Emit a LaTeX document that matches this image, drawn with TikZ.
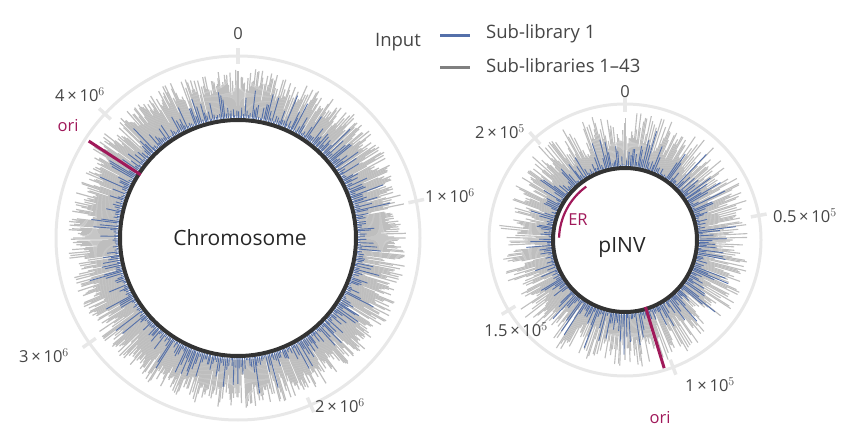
\documentclass[tikz,border=0pt]{standalone}
\usepackage{fontspec}
\setmainfont{Open Sans}
\definecolor{blu}{RGB}{84,112,170}
\definecolor{gbar}{RGB}{190,190,190}
\definecolor{ring}{RGB}{232,232,232}
\definecolor{mag}{RGB}{160,25,90}
\definecolor{txt}{RGB}{70,70,70}
\begin{document}
\begin{tikzpicture}[x=1pt,y=-1pt,
  lab/.style={text=txt,font=\fontsize{16.5}{18}\selectfont,inner sep=1pt},
  tick/.style={draw=ring,line width=3.5pt}]
\useasboundingbox (0,0) rectangle (852,444);
\pgfmathsetseed{7}
% ---------- left chromosome
\begin{scope}[shift={(238,238)}]
\draw[ring,line width=3pt] (0,0) circle (182);
\foreach \i in {0,...,899}{
  \pgfmathsetmacro{\ang}{\i*0.4-90}
  \pgfmathsetmacro{\L}{124+22+rnd*24-(rnd<0.12?22:0)}
  \draw[gbar,line width=1.2pt] (\ang:122) -- (\ang:\L);
}
\foreach \i in {0,...,449}{
  \pgfmathsetmacro{\ang}{\i*0.8+rnd*0.4-90}
  \pgfmathsetmacro{\L}{122+rnd*rnd*38}
  \draw[blu,line width=0.9pt] (\ang:120) -- (\ang:\L);
}
\foreach \a in {0,78.3,156.5,234.8,313} \draw[tick] (\a-90:174) -- (\a-90:190);
\draw[black!80,line width=4pt] (0,0) circle (118);
\draw[mag,line width=3pt] (213:116) -- (213:178);
\end{scope}
\node[lab] (l0) at (238,34) {0};
\node[lab] (l1) at (450,196) {1\,×\,10$^6$};
\node[lab] (l2) at (340,406) {2\,×\,10$^6$};
\node[lab] (l3) at (44,356) {3\,×\,10$^6$};
\node[lab] (l4) at (80,95) {4\,×\,10$^6$};
\node[lab,text=mag] (lori) at (68,126) {ori};
\node[font=\fontsize{21}{23}\selectfont,text=black!85] (chr) at (240,238) {Chromosome};
% ---------- right pINV
\begin{scope}[shift={(625,240)}]
\draw[ring,line width=3pt] (0,0) circle (136);
\foreach \i in {0,...,599}{
  \pgfmathsetmacro{\ang}{\i*0.6-90}
  \pgfmathsetmacro{\L}{76+14+rnd*38-(rnd<0.15?15:0)}
  \draw[gbar,line width=1.1pt] (\ang:75) -- (\ang:\L);
}
\foreach \i in {0,...,299}{
  \pgfmathsetmacro{\ang}{\i*1.2+rnd*0.6-90}
  \pgfmathsetmacro{\L}{75+rnd*rnd*44}
  \draw[blu,line width=0.9pt] (\ang:73) -- (\ang:\L);
}
\draw[gbar,line width=1pt] (-90:75) -- (-90:122);
\foreach \a in {0,79.6,159.3,238.9,318.5} \draw[tick] (\a-90:128) -- (\a-90:144);
\draw[black!80,line width=4pt] (0,0) circle (72);
\draw[mag,line width=3pt] (73:70) -- (73:134);
\draw[mag,line width=2.2pt] (-178:66) arc[start angle=-178,end angle=-126,radius=66];
\end{scope}
\node[lab] (r0) at (625,92) {0};
\node[lab,anchor=west] (r1) at (772,216) {0.5\,×\,10$^5$};
\node[lab] (r2) at (710,385) {1\,×\,10$^5$};
\node[lab] (r3) at (516,330) {1.5\,×\,10$^5$};
\node[lab] (r4) at (500,132) {2\,×\,10$^5$};
\node[lab,text=mag] (rori) at (660,418) {ori};
\node[lab,text=mag] (er) at (578,220) {ER};
\node[font=\fontsize{21}{23}\selectfont,text=black!85] (pinv) at (622,248) {pINV};
% ---------- legend
\node[lab,font=\fontsize{18.5}{20}\selectfont] (inp) at (398,42) {Input};
\coordinate (b1) at (440,36); \coordinate (b2) at (470,36);
\coordinate (g1) at (440,68); \coordinate (g2) at (470,68);
\draw[blu,line width=3pt] (b1) -- (b2);
\draw[gray,line width=3pt] (g1) -- (g2);
\node[lab,anchor=west,font=\fontsize{18.5}{20}\selectfont] (s1) at (485,34) {Sub-library 1};
\node[lab,anchor=west,font=\fontsize{18.5}{20}\selectfont] (s2) at (485,66) {Sub-libraries 1–43};
\end{tikzpicture}
\end{document}
